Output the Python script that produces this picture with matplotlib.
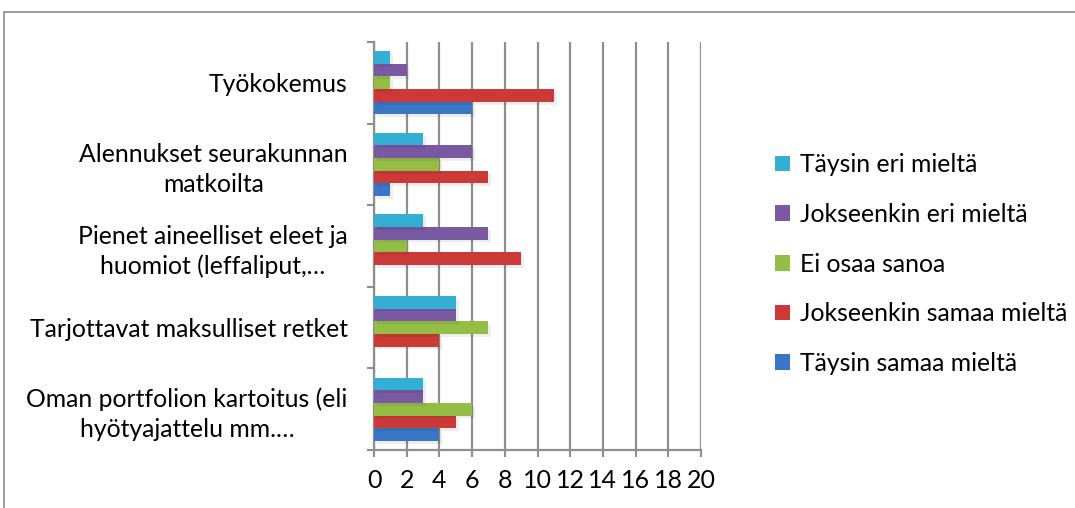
import matplotlib.pyplot as plt
import matplotlib.patheffects as pe
from matplotlib.patches import Rectangle, Patch
import numpy as np

plt.rcParams['font.family'] = ['Lato', 'DejaVu Sans']

# categories from bottom to top
categories = [
    "Oman portfolion kartoitus (eli\nhyötyajattelu mm.…",
    "Tarjottavat maksulliset retket",
    "Pienet aineelliset eleet ja\nhuomiot (leffaliput,…",
    "Alennukset seurakunnan\nmatkoilta",
    "Työkokemus",
]
series_names = ["Täysin samaa mieltä", "Jokseenkin samaa mieltä", "Ei osaa sanoa",
                "Jokseenkin eri mieltä", "Täysin eri mieltä"]
taysin_samaa = [4, 0, 0, 1, 6]
jokseenkin_samaa = [5, 4, 9, 7, 11]
ei_osaa = [6, 7, 2, 4, 1]
jokseenkin_eri = [3, 5, 7, 6, 2]
taysin_eri = [3, 5, 3, 3, 1]
values = [taysin_samaa, jokseenkin_samaa, ei_osaa, jokseenkin_eri, taysin_eri]
colors = ["#3A76C4", "#CB3A37", "#93BD45", "#7A59A3", "#33AFD3"]
xticks = list(range(0, 21, 2))

fig = plt.figure(figsize=(10.75, 5.08), dpi=100)
# outer chart border
fig.patches.append(Rectangle((4 / 1075, -0.1), 1.2, (508 - 12) / 508 + 0.1,
                             transform=fig.transFigure, fill=False,
                             edgecolor="#8C8C8C", linewidth=1.2))

ax = fig.add_axes([374 / 1075, (508 - 450) / 508, (701 - 374) / 1075, (450 - 42) / 508])

y = np.arange(len(categories))
h = 0.155
shadow = [pe.SimplePatchShadow(offset=(2, -2), shadow_rgbFace="#000000", alpha=0.07), pe.Normal()]
for i, (vals, c) in enumerate(zip(values, colors)):
    bars = ax.barh(y + (i - 2) * h, vals, height=h, color=c, zorder=3)
    for b in bars:
        b.set_path_effects(shadow)

ax.set_xlim(0, 20)
ax.set_ylim(-0.5, len(categories) - 0.5)
ax.set_xticks(xticks)
ax.set_xticklabels([str(t) for t in xticks])
ax.set_yticks(y)
ax.set_yticklabels(categories)
for lab in ax.get_yticklabels():
    lab.set_multialignment("center")
    lab.set_linespacing(1.35)
ax.set_yticks(np.arange(-0.5, len(categories)), minor=True)

ax.grid(axis="x", color="#8E8E8E", linewidth=1.6, zorder=0)
ax.tick_params(axis="y", which="major", length=0, pad=19, labelsize=17.8)
ax.tick_params(axis="y", which="minor", length=5, width=1.5, color="#8E8E8E")
ax.tick_params(axis="x", length=5, width=1.5, color="#8E8E8E", pad=9, labelsize=18)
for s in ["top", "right"]:
    ax.spines[s].set_visible(False)
for s in ["left", "bottom"]:
    ax.spines[s].set_color("#8E8E8E")
    ax.spines[s].set_linewidth(1.6)

handles = [Patch(facecolor=c, label=n) for c, n in zip(colors, series_names)]
leg = fig.legend(handles=handles[::-1], loc="center left",
                 bbox_to_anchor=(753 / 1075, (508 - 264) / 508), frameon=False,
                 fontsize=17.8, handlelength=0.6, handleheight=0.6,
                 handletextpad=0.4, labelspacing=1.08)

fig.savefig("out.png", dpi=100, facecolor="white")
